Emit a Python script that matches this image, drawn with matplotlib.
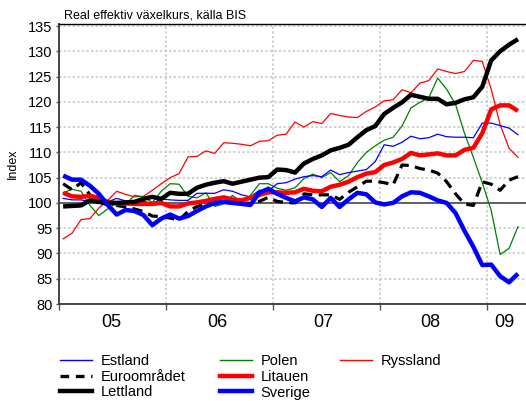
import numpy as np
import matplotlib
matplotlib.use("Agg")
import matplotlib.pyplot as plt
from matplotlib.lines import Line2D

plt.rcParams['font.family'] = ['Liberation Sans', 'DejaVu Sans']

# Monthly data Jan 2005 - Apr 2009 (index)
estland = [100.9, 100.6, 100.6, 100.3, 100.2, 100.2, 100.9, 100.4, 100.1, 100.3, 99.9, 100.8,
           100.6, 100.5, 100.5, 101.9, 101.9, 101.9, 102.6, 102.3, 101.6, 101.2, 102.5, 102.4,
           103.8, 104.0, 104.7, 105.2, 105.4, 105.2, 106.5, 105.6, 106.0, 106.3, 106.6, 108.2,
           111.5, 111.2, 112.0, 113.2, 112.7, 112.9, 113.6, 113.1, 113.0, 113.0, 112.9, 115.8,
           115.8, 115.3, 114.8, 113.5]
euro = [103.8, 102.6, 104.0, 101.6, 100.2, 99.6, 99.5, 99.2, 98.8, 98.3, 97.4, 97.3,
        97.0, 96.6, 98.3, 99.3, 99.8, 99.8, 100.1, 100.0, 100.0, 99.9, 100.3, 101.1,
        100.3, 100.1, 100.0, 101.8, 101.6, 101.6, 101.6, 100.7, 102.1, 103.2, 104.3, 104.3,
        104.0, 103.6, 107.5, 107.4, 106.8, 106.5, 105.9, 104.2, 101.8, 99.8, 99.5, 104.2,
        103.7, 102.5, 104.5, 105.2]
lettland = [99.3, 99.4, 99.5, 100.5, 100.2, 100.0, 100.0, 100.1, 100.2, 100.8, 101.2, 100.8,
            102.0, 101.8, 101.8, 103.0, 103.6, 104.0, 104.3, 103.8, 104.2, 104.6, 105.0, 105.1,
            106.6, 106.5, 106.0, 107.8, 108.7, 109.4, 110.4, 110.9, 111.5, 113.0, 114.4, 115.2,
            117.6, 118.8, 119.9, 121.4, 121.0, 120.6, 120.6, 119.5, 119.8, 120.5, 120.9, 123.0,
            128.2, 130.0, 131.3, 132.4]
polen = [102.0, 102.7, 102.3, 99.5, 97.5, 98.8, 100.0, 99.7, 101.5, 101.2, 100.1, 102.3,
         103.8, 103.7, 101.3, 101.0, 102.0, 99.3, 99.8, 101.5, 100.0, 101.5, 103.8, 103.8,
         102.9, 102.5, 103.0, 104.8, 105.7, 105.0, 106.0, 104.2, 105.4, 108.0, 110.0, 111.3,
         112.4, 113.0, 115.2, 118.8, 119.9, 120.8, 124.7, 122.5, 119.5, 113.8, 109.0, 104.0,
         98.5, 89.8, 91.0, 95.3]
litauen = [102.0, 101.3, 101.2, 101.4, 101.0, 100.2, 99.9, 99.9, 99.8, 99.8, 99.8, 100.0,
           99.3, 99.3, 99.9, 100.1, 100.4, 100.8, 101.1, 100.7, 100.5, 101.0, 101.6, 102.1,
           102.1, 102.0, 102.1, 102.8, 102.4, 102.3, 103.2, 103.6, 104.2, 105.1, 105.8, 106.1,
           107.5, 108.0, 108.7, 109.9, 109.4, 109.6, 109.8, 109.4, 109.4, 110.5, 110.9, 113.8,
           118.5, 119.3, 119.3, 118.2]
sverige = [105.4, 104.6, 104.6, 103.4, 101.8, 99.6, 97.7, 98.6, 98.4, 97.6, 95.6, 96.9,
           97.7, 96.9, 97.4, 98.4, 99.3, 100.0, 100.2, 100.0, 99.8, 99.6, 102.0, 102.8,
           101.8, 101.0, 100.3, 101.1, 100.7, 99.2, 101.0, 99.2, 100.7, 102.0, 101.7, 100.1,
           99.7, 100.0, 101.3, 102.1, 102.0, 101.3, 100.5, 100.0, 98.0, 94.5, 91.3, 87.7,
           87.8, 85.5, 84.3, 86.0]
ryssland = [92.9, 94.0, 96.7, 96.9, 99.0, 100.5, 102.3, 101.7, 101.2, 101.3, 102.5, 103.8,
            105.0, 105.8, 109.1, 109.2, 110.3, 109.8, 111.9, 111.8, 111.6, 111.3, 112.2, 112.3,
            113.4, 113.6, 116.0, 115.0, 116.1, 115.7, 117.7, 117.3, 117.0, 116.9, 118.1, 119.0,
            120.2, 120.4, 122.4, 121.8, 123.7, 124.2, 126.5, 126.0, 125.6, 126.0, 128.2, 128.0,
            122.5, 115.5, 110.8, 109.0]

year_labels = ['05', '06', '07', '08', '09']
year_label_pos = [5.9, 17.8, 29.7, 41.7, 50.0]
year_starts = [0, 12, 24, 36, 48]
yticks = list(range(80, 136, 5))

W, H = 526, 401
fig = plt.figure(figsize=(W / 100, H / 100), dpi=100)
ax = fig.add_axes([58.7 / W, (H - 304) / H, 468 / W, 280 / H])

x = np.arange(len(estland)) + 0.5

ax.axhline(100, color='#555555', lw=1.3, zorder=2)

ax.plot(x, ryssland, color='#ff0000', lw=0.9, zorder=3)
ax.plot(x, polen, color='#008000', lw=0.9, zorder=3)
ax.plot(x, estland, color='#0000ff', lw=0.9, zorder=3)
ax.plot(x, euro, color='black', lw=2.3, dashes=(3.2, 2.0), zorder=4)
ax.plot(x, litauen, color='#ff0000', lw=3.2, zorder=5, solid_capstyle='butt')
ax.plot(x, lettland, color='black', lw=3.2, zorder=5, solid_capstyle='butt')
ax.plot(x, sverige, color='#0000ff', lw=3.2, zorder=6, solid_capstyle='butt')

ax.set_xlim(0, 52.48)
ax.set_ylim(80, 135.4)
ax.set_yticks(yticks)
ax.set_xticks(year_starts)
ax.set_xticklabels([])
ax.set_xticks(year_label_pos, minor=True)
ax.set_xticklabels(year_labels, minor=True, fontsize=13)
ax.tick_params(axis='x', which='minor', length=0, pad=7.5)
ax.tick_params(axis='x', which='major', length=4, width=1, color='#555555', direction='out')
ax.tick_params(axis='y', length=2.5, width=1, color='#555555', labelsize=10.5, pad=2)

ax.grid(True, which='major', linestyle=(0, (1.5, 1.5)), color='#c4c4c4', lw=1.1, zorder=1)
for side in ['left', 'bottom']:
    ax.spines[side].set_color('#444444')
    ax.spines[side].set_linewidth(1.4)
ax.spines['top'].set_color('black')
ax.spines['top'].set_linewidth(1.0)
ax.spines['right'].set_visible(False)

fig.text(64 / W, 1 - 15 / H, 'Real effektiv växelkurs, källa BIS', fontsize=9, ha='left', va='center')
fig.text(13 / W, 1 - 164 / H, 'Index', rotation=90, fontsize=9, ha='center', va='center')

def mk(color, lw, dashed=False):
    if dashed:
        return Line2D([], [], color=color, lw=lw, dashes=(2.6, 2.0))
    return Line2D([], [], color=color, lw=lw)

cols = [
    (60, [(mk('#0000ff', 1.0), 'Estland'), (mk('black', 2.4, True), 'Euroområdet'), (mk('black', 3.2), 'Lettland')]),
    (220, [(mk('#008000', 1.0), 'Polen'), (mk('#ff0000', 3.2), 'Litauen'), (mk('#0000ff', 3.2), 'Sverige')]),
    (340, [(mk('#ff0000', 1.0), 'Ryssland')]),
]
for xpx, items in cols:
    fig.legend([h for h, _ in items], [l for _, l in items], loc='upper left',
               bbox_to_anchor=(xpx / W, 1 - 354 / H), frameon=False, fontsize=10.5,
               handlelength=2.2, handletextpad=0.6, labelspacing=0.12,
               borderpad=0, borderaxespad=0)

fig.savefig('out.png', dpi=100)
